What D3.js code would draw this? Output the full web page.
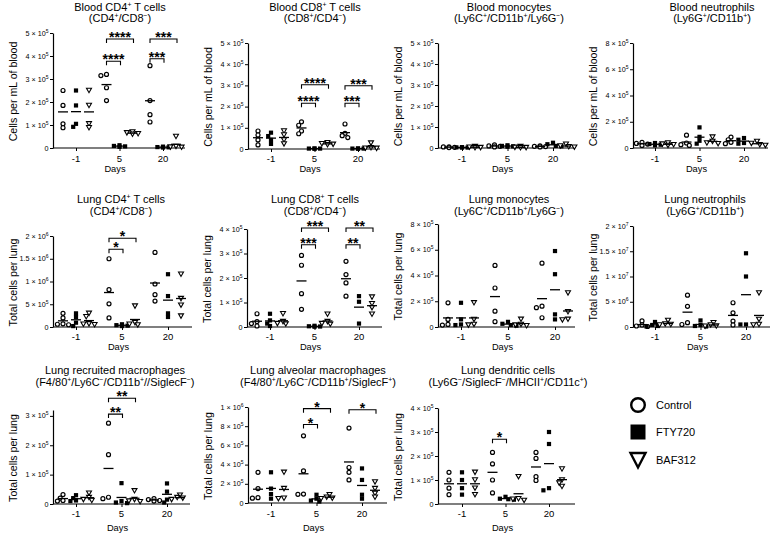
<!DOCTYPE html>
<html><head><meta charset="utf-8">
<script src="https://cdn.jsdelivr.net/npm/d3@7"></script>
<style>
body{margin:0;background:#fff}
svg{display:block}
text{font-family:"Liberation Sans",Arial,Helvetica,sans-serif;fill:#000}
</style>
</head><body>
<svg id="c" width="778" height="535"></svg>
<script>
// ---------- categories ----------
const days = ["-1", "5", "20"];
const groups = ["Control", "FTY720", "BAF312"];

// ---------- data: [Control, FTY720, BAF312] x [day -1, day 5, day 20], values in "unit" ----------
const bloodCD4 = [
  [[2.5,1.85,1.05,0.88],[3.2,3.15,2.62,2.06],[3.58,2.06,1.45,1.13]],
  [[2.5,1.85,1.05,0.92],[0.12,0.09,0.07,0.05],[0.06,0.04,0.03,0.02]],
  [[2.5,1.85,1.05,0.88],[0.7,0.66,0.62,0.6],[0.5,0.07,0.04,0.03]]];
const bloodCD8 = [
  [[0.85,0.66,0.43,0.19],[1.28,1.12,0.85,0.72],[1.18,0.74,0.63,0.54]],
  [[0.77,0.61,0.43,0.24],[0.03,0.02,0.02,0.01],[0.03,0.02,0.02,0.01]],
  [[0.85,0.66,0.43,0.24],[0.3,0.25,0.22,0.2],[0.28,0.06,0.04,0.03]]];
const bloodMono = [
  [[0.06,0.05,0.03,0.02],[0.15,0.1,0.08,0.05],[0.1,0.08,0.07,0.05]],
  [[0.04,0.03,0.02,0.02],[0.13,0.1,0.08,0.06],[0.25,0.18,0.1,0.08]],
  [[0.07,0.04,0.02,0.01],[0.07,0.03,0.02,0.01],[0.18,0.1,0.06,0.04]]];
const bloodNeut = [
  [[0.43,0.35,0.3,0.2],[0.98,0.38,0.25,0.2],[0.83,0.63,0.43,0.33]],
  [[0.38,0.3,0.25,0.2],[1.57,0.85,0.55,0.33],[0.76,0.63,0.38,0.33]],
  [[0.38,0.3,0.25,0.2],[0.83,0.5,0.38,0.33],[0.5,0.35,0.25,0.2]]];
const lungCD4 = [
  [[3.0,2.0,0.7,0.6,0.5],[15.0,8.2,5.1,2.0],[16.4,9.45,7.1,5.7]],
  [[3.0,2.2,0.95,0.2],[0.6,0.4,0.3,0.2],[11.6,6.8,3.0,2.2]],
  [[3.0,2.25,0.7,0.6,0.5],[4.6,0.95,0.6,0.45],[11.6,6.25,4.8,2.4]]];
const lungCD8 = [
  [[0.54,0.22,0.14,0.04],[2.92,2.52,1.36,0.72],[2.68,2.14,1.8,1.26]],
  [[0.54,0.27,0.14,0.04],[0.05,0.03,0.02,0.01],[1.26,1.03,0.14]],
  [[0.54,0.22,0.14,0.12],[0.52,0.22,0.14,0.11],[1.22,0.95,0.79,0.52]]];
const lungMono = [
  [[1.88,0.59,0.2,0.15],[4.78,3.03,1.23,0.41],[4.96,1.62,1.5,0.72]],
  [[1.88,0.59,0.2,0.15],[0.4,0.25,0.15,0.1],[5.9,4.1,0.98,0.59]],
  [[1.88,0.59,0.2,0.15],[0.6,0.2,0.15,0.1],[2.65,1.18,0.6,0.55]]];
const lungNeut = [
  [[1.2,0.4,0.2,0.1],[6.3,4.1,0.85,0.5],[4.8,2.8,1.18,0.4]],
  [[1.0,0.4,0.2,0.1],[1.3,0.4,0.2,0.1],[14.6,10.0,0.5,0.5]],
  [[1.3,0.6,0.5,0.4],[0.85,0.4,0.2,0.15],[6.75,1.5,0.5,0.4]]];
const lungRecMac = [
  [[0.32,0.2,0.12,0.1],[2.75,1.68,0.23,0.18],[0.18,0.15,0.12,0.1]],
  [[0.3,0.2,0.12,0.1],[0.71,0.1,0.05,0.03],[0.7,0.42,0.15,0.05]],
  [[0.37,0.22,0.15,0.12],[0.45,0.15,0.1,0.08],[0.3,0.22,0.2,0.15]]];
const lungAlvMac = [
  [[3.2,1.5,0.55,0.5],[7.0,3.34,0.93,0.9],[7.8,3.7,3.2,2.4]],
  [[3.2,1.5,0.93,0.45],[0.86,0.45,0.25,0.15],[3.6,2.4,0.86,0.45]],
  [[3.2,1.5,0.5,0.45],[0.86,0.6,0.5,0.45],[2.2,1.5,1.0,0.6]]];
const lungDC = [
  [[1.32,1.0,0.66,0.39],[2.15,1.67,1.0,0.46],[2.15,1.9,1.14,0.98]],
  [[1.32,1.0,0.66,0.39],[0.3,0.22,0.2,0.18],[3.0,2.5,0.66,0.57]],
  [[1.32,1.0,0.66,0.39],[1.14,0.22,0.2,0.15],[1.46,1.0,0.87,0.73]]];

const datasets = [bloodCD4, bloodCD8, bloodMono, bloodNeut, lungCD4, lungCD8, lungMono, lungNeut, lungRecMac, lungAlvMac, lungDC];
const units = [1e5,1e5,1e5,1e5,1e5,1e5,1e5,1e6,1e5,1e5,1e5];

// ---------- titles (^x = superscript) ----------
const titles = [
  ["Blood CD4^+ T cells","(CD4^+/CD8^−)"],
  ["Blood CD8^+ T cells","(CD8^+/CD4^−)"],
  ["Blood monocytes","(Ly6C^+/CD11b^+/Ly6G^−)"],
  ["Blood neutrophils","(Ly6G^+/CD11b^+)"],
  ["Lung CD4^+ T cells","(CD4^+/CD8^−)"],
  ["Lung CD8^+ T cells","(CD8^+/CD4^−)"],
  ["Lung monocytes","(Ly6C^+/CD11b^+/Ly6G^−)"],
  ["Lung neutrophils","(Ly6G^+/CD11b^+)"],
  ["Lung recruited macrophages","(F4/80^+/Ly6C^−/CD11b^+//SiglecF^−)"],
  ["Lung alveolar macrophages","(F4/80^+/Ly6C^−/CD11b^+/SiglecF^+)"],
  ["Lung dendritic cells","(Ly6G^−/SiglecF^−/MHCII^+/CD11c^+)"]];
const yTitles = ["Cells per mL of blood","Cells per mL of blood","Cells per mL of blood","Cells per mL of blood",
  "Total cells per lung","Total cells per lung","Total cells per lung","Total cells per lung",
  "Total cells per lung","Total cells per lung","Total cells per lung"];
const xTitle = "Days";

// ---------- y tick values ----------
const yTicks = [
  [0,1e5,2e5,3e5,4e5,5e5],[0,1e5,2e5,3e5,4e5,5e5],[0,1e5,2e5,3e5,4e5,5e5],[0,2e5,4e5,6e5,8e5],
  [0,5e5,1e6,1.5e6,2e6],[0,1e5,2e5,3e5,4e5],[0,2e5,4e5,6e5,8e5],[0,5e6,1e7,1.5e7,2e7],
  [0,1e5,2e5,3e5],[0,2e5,4e5,6e5,8e5,1e6],[0,1e5,2e5,3e5,4e5]];
const yMax = [5e5,5e5,5e5,8e5,2e6,4e5,8e5,2e7,3.2e5,1e6,4e5];

// ---------- significance (day, compared group index, level value, label) ----------
const sigs = [
  [["5",1,3.77e5,"****"],["5",2,4.74e5,"****"],["20",1,3.88e5,"***"],["20",2,4.74e5,"***"]],
  [["5",1,2.16e5,"****"],["5",2,3.03e5,"****"],["20",1,2.16e5,"***"],["20",2,2.98e5,"***"]],
  [],[],
  [["5",1,1.71e6,"*"],["5",2,1.95e6,"*"]],
  [["5",1,3.36e5,"***"],["5",2,4.04e5,"***"],["20",1,3.36e5,"**"],["20",2,4.04e5,"**"]],
  [],[],
  [["5",1,3.06e5,"**"],["5",2,3.6e5,"**"]],
  [["5",1,8.17e5,"*"],["5",2,9.83e5,"*"],["20",2,9.72e5,"*"]],
  [["5",1,2.7e5,"*"]]];

// ---------- layout ----------
const layout = [
  {ax:53, yTop:33, yBot:148, x0:76, x1:163, xEnd:185, tcx:120, row:0},
  {ax:248,yTop:43, yBot:149, x0:271,x1:358, xEnd:380, tcx:315, row:0},
  {ax:438,yTop:43, yBot:148, x0:462,x1:553, xEnd:575, tcx:509, row:0},
  {ax:633,yTop:43, yBot:148, x0:655,x1:744, xEnd:768, tcx:712, row:0},
  {ax:53, yTop:236,yBot:327, x0:76, x1:168, xEnd:192, tcx:121, row:1},
  {ax:247,yTop:229,yBot:327, x0:270,x1:359, xEnd:382, tcx:315, row:1},
  {ax:438,yTop:224,yBot:327, x0:461,x1:555, xEnd:575, tcx:509, row:1},
  {ax:633,yTop:226,yBot:327, x0:655,x1:746, xEnd:770, tcx:705, row:1},
  {ax:53, yTop:410,yBot:504, x0:76, x1:167, xEnd:190, tcx:115, row:2},
  {ax:248,yTop:407,yBot:503, x0:271,x1:362, xEnd:387, tcx:318, row:2},
  {ax:438,yTop:408,yBot:504, x0:462,x1:549, xEnd:575, tcx:508, row:2}];
const rows = [
  {t1:11, t2:22, tick:161.5, days:171.5},
  {t1:203,t2:215,tick:339.5, days:349.5},
  {t1:374,t2:386,tick:516.5, days:530.5}];

const svg = d3.select("#c");

function rich(textSel, str, fs){
  const parts = str.split(/(\^.)/).filter(s=>s.length);
  let up = false;
  parts.forEach(s=>{
    if (s[0]==="^"){
      textSel.append("tspan").attr("font-size", fs*0.62).attr("dy", -fs*0.38).text(s[1]);
      up = true;
    } else {
      const t = textSel.append("tspan").attr("font-size", fs).text(s);
      if (up){ t.attr("dy", fs*0.38); up = false; }
    }
  });
  if (up) textSel.append("tspan").attr("dy", fs*0.38).text("\u200b");
}

function sci(v){
  if (v === 0) return ["0", null];
  const e = Math.floor(Math.log10(v) + 1e-9);
  const m = +(v / Math.pow(10, e)).toFixed(2);
  return [m + " × 10", e];
}

const groupOff = [-13, 0, 13];

function marker(sel, gi, cx, cy){
  if (gi === 0){
    sel.append("circle").attr("cx",cx).attr("cy",cy).attr("r",2.0)
      .attr("fill","#fff").attr("stroke","#000").attr("stroke-width",1.2);
  } else if (gi === 1){
    const a = 4.2;
    sel.append("rect").attr("x",cx-a/2).attr("y",cy-a/2).attr("width",a).attr("height",a).attr("fill","#000");
  } else {
    const w = 2.5, h = 2.2;
    sel.append("path").attr("d",`M${cx-w},${cy-h}L${cx+w},${cy-h}L${cx},${cy+h}Z`)
      .attr("fill","#fff").attr("stroke","#000").attr("stroke-width",1.1).attr("stroke-linejoin","miter");
  }
}

datasets.forEach((data, i)=>{
  const L = layout[i], R = rows[L.row], unit = units[i];
  const g = svg.append("g");
  const y = d3.scaleLinear().domain([0, yMax[i]]).range([L.yBot, L.yTop]);
  const x = d3.scalePoint().domain(days).range([L.x0, L.x1]);

  // y axis
  const ya = g.append("g").attr("transform",`translate(${L.ax},0)`)
    .call(d3.axisLeft(y).tickValues(yTicks[i]).tickSize(3).tickSizeOuter(0).tickFormat(""));
  ya.select(".domain").attr("stroke","#000").attr("stroke-width",1.2);
  ya.selectAll(".tick line").attr("stroke","#000").attr("stroke-width",1);
  yTicks[i].forEach(v=>{
    const [m, e] = sci(v);
    const t = g.append("text").attr("x", L.ax-4.5).attr("y", y(v)+2.5).attr("text-anchor","end");
    t.append("tspan").attr("font-size",7.2).text(m);
    if (e !== null) t.append("tspan").attr("font-size",5).attr("dy",-3).text(e);
  });

  // x axis
  g.append("line").attr("x1",L.ax).attr("x2",L.xEnd).attr("y1",L.yBot).attr("y2",L.yBot)
    .attr("stroke","#000").attr("stroke-width",1.2);
  const xa = g.append("g").attr("transform",`translate(0,${L.yBot})`)
    .call(d3.axisBottom(x).tickSize(3).tickSizeOuter(0).tickFormat(""));
  xa.select(".domain").remove();
  xa.selectAll(".tick line").attr("stroke","#000").attr("stroke-width",1);
  days.forEach(d=>{
    g.append("text").attr("x", x(d)).attr("y", R.tick).attr("text-anchor","middle")
      .attr("font-size",9.5).text(d);
  });
  g.append("text").attr("x",(L.ax+L.xEnd)/2-4).attr("y",R.days).attr("text-anchor","middle")
    .attr("font-size",9.3).text(xTitle);

  // y title
  g.append("text").attr("transform",`translate(${L.ax-40},${(L.yTop+L.yBot)/2+1}) rotate(-90)`)
    .attr("text-anchor","middle").attr("dominant-baseline","central").attr("font-size",10.6).text(yTitles[i]);

  // title
  rich(g.append("text").attr("x",L.tcx).attr("y",R.t1).attr("text-anchor","middle"), titles[i][0], 11);
  rich(g.append("text").attr("x",L.tcx).attr("y",R.t2).attr("text-anchor","middle"), titles[i][1], 11);

  // points + mean lines
  data.forEach((gd, gi)=>{
    gd.forEach((vals, di)=>{
      const cx = x(days[di]) + groupOff[gi];
      const placed = [];
      const sorted = vals.map(v=>v*unit).sort((a,b)=>b-a);
      sorted.forEach(v=>{
        const py = y(v);
        let px = cx;
        for (const o of [0,-2.8,2.8,-5.6,5.6,-8.4,8.4]){
          const cand = cx + o;
          if (placed.every(p=>Math.hypot(p[0]-cand,p[1]-py) >= 3.6)){ px = cand; break; }
        }
        placed.push([px,py]);
      });
      placed.forEach(p=>marker(g, gi, p[0], p[1]));
      const mean = d3.mean(vals)*unit;
      g.append("line").attr("x1",cx-5).attr("x2",cx+5).attr("y1",y(mean)).attr("y2",y(mean))
        .attr("stroke","#000").attr("stroke-width",1.3);
    });
  });

  // significance brackets
  sigs[i].forEach(([d, gi, lv, lab])=>{
    const xa0 = x(d) + groupOff[0], xa1 = x(d) + groupOff[gi] + 1;
    const by = y(lv);
    g.append("path").attr("d",`M${xa0},${by+4}V${by}H${xa1}V${by+4}`)
      .attr("fill","none").attr("stroke","#000").attr("stroke-width",1.1);
    g.append("text").attr("x",(xa0+xa1)/2).attr("y",by+3).attr("text-anchor","middle")
      .attr("font-size",14).attr("font-weight","bold").text(lab);
  });
});

// ---------- legend ----------
const lg = svg.append("g");
const legY = [405, 432, 460];
groups.forEach((name, gi)=>{
  const cx = 638, cy = legY[gi];
  if (gi === 0){
    lg.append("circle").attr("cx",cx).attr("cy",cy).attr("r",6.8).attr("fill","#fff").attr("stroke","#000").attr("stroke-width",2.4);
  } else if (gi === 1){
    lg.append("rect").attr("x",cx-7.5).attr("y",cy-7.5).attr("width",15).attr("height",15).attr("fill","#000");
  } else {
    lg.append("path").attr("d",`M${cx-7.5},${cy-7}L${cx+7.5},${cy-7}L${cx},${cy+7.5}Z`)
      .attr("fill","#fff").attr("stroke","#000").attr("stroke-width",2.4);
  }
  lg.append("text").attr("x",656).attr("y",cy+4).attr("font-size",11).text(name);
});
</script>
</body></html>
